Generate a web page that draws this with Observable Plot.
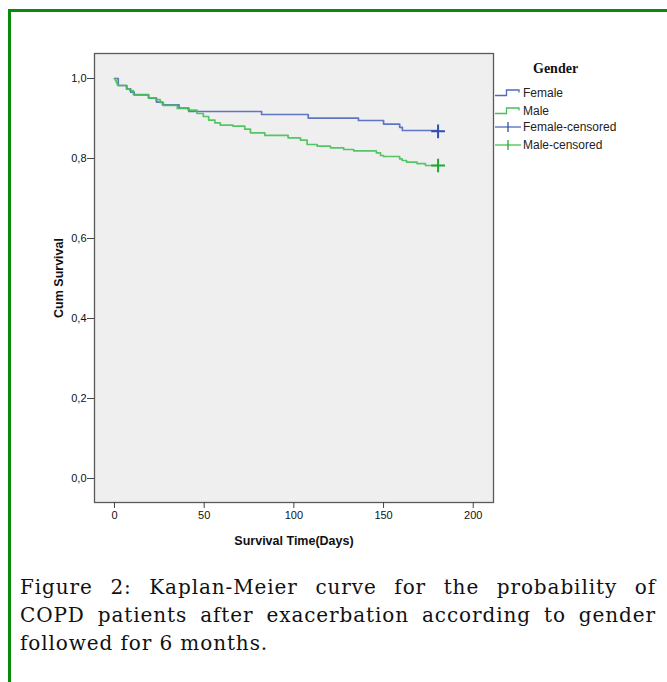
<!DOCTYPE html>
<html>
<head>
<meta charset="utf-8">
<script src="https://cdn.jsdelivr.net/npm/d3@7"></script>
<script src="https://cdn.jsdelivr.net/npm/@observablehq/plot@0.6"></script>
<style>
  html, body { margin: 0; padding: 0; background: #fff; width: 667px; height: 682px; overflow: hidden; }
  #page { position: relative; width: 667px; height: 682px; }
  #border { position: absolute; left: 8px; top: 9px; width: 680px; height: 700px; border: 3px solid #0a8a0a; box-sizing: border-box; }
  #chart { position: absolute; left: 0; top: 0; }
  #legend { position: absolute; left: 495px; top: 60px; font-family: "Liberation Sans", Arial, sans-serif; font-size: 12px; color: #222; }
  #legend .title { position: absolute; left: 38px; top: 1px; font-family: "Liberation Serif", "Times New Roman", serif; font-weight: bold; font-size: 14px; color: #111; white-space: nowrap; }
  #legend .item { position: absolute; left: 0; height: 14px; display: flex; align-items: center; white-space: nowrap; }
  #legend svg { display: block; margin-right: 1px; }
  #caption { position: absolute; left: 20px; top: 573px; width: 636px; font-family: "DejaVu Serif", serif; font-size: 20px; letter-spacing: 0.9px; line-height: 28px; color: #111; }
  #caption .j { display: block; text-align: justify; text-align-last: justify; white-space: nowrap; }
  #caption .l { display: block; text-align: left; white-space: nowrap; }
</style>
</head>
<body>
<div id="page">
  <div id="border"></div>
  <div id="chart"></div>
  <div id="legend"></div>
  <div id="caption"><span class="j">Figure 2: Kaplan-Meier curve for the probability of</span><span class="j">COPD patients after exacerbation according to gender</span><span class="l">followed for 6 months.</span></div>
</div>
<script>
// ---- data ----
const femaleDays = [0, 2.1, 6.7, 9, 11, 19, 23.4, 26.8, 36, 41.5, 82, 108, 136, 150, 159, 160.5, 180.4];
const femaleSurv = [1.0, 0.9825, 0.974, 0.966, 0.959, 0.951, 0.941, 0.934, 0.926, 0.9175, 0.910, 0.901, 0.895, 0.886, 0.878, 0.870, 0.870];
const maleDays = [0, 0.5, 1, 1.5, 2.2, 7, 8.5, 10.5, 19, 23, 25.5, 27.3, 35, 41, 46, 49.5, 52.5, 56, 59, 66, 72.6, 75.8, 83.8, 96.8, 103.7, 107.4, 113, 120.4, 127.8, 133.4, 146, 148.3, 150, 159, 160.4, 162.8, 168.7, 173.4, 180.4];
const maleSurv = [1.0, 0.995, 0.99, 0.985, 0.9825, 0.974, 0.97, 0.96, 0.951, 0.947, 0.94, 0.933, 0.925, 0.9208, 0.9125, 0.905, 0.896, 0.889, 0.8833, 0.881, 0.8733, 0.8642, 0.858, 0.8517, 0.8458, 0.835, 0.8308, 0.8268, 0.8225, 0.819, 0.814, 0.8075, 0.805, 0.799, 0.795, 0.791, 0.787, 0.7825, 0.7825];
const censoredGroup = ["Female", "Male"];
const censoredDays = [180.4, 180.4];
const censoredSurv = [0.868, 0.7825];
const xTicks = [0, 50, 100, 150, 200];
const yTicks = [0, 0.2, 0.4, 0.6, 0.8, 1.0];
const legendLabels = ["Female", "Male", "Female-censored", "Male-censored"];
const groupColors = {Female: "#4f68c0", Male: "#45c055"};
const censorColors = {Female: "#2f4fae", Male: "#1fa835"};

// ---- tables built from the arrays ----
const female = femaleDays.map((d, i) => ({day: d, surv: femaleSurv[i], group: "Female"}));
const male = maleDays.map((d, i) => ({day: d, surv: maleSurv[i], group: "Male"}));
const censored = censoredDays.map((d, i) => ({day: d, surv: censoredSurv[i], group: censoredGroup[i]}));

const fmt = d => d.toFixed(1).replace(".", ",");

const plot = Plot.plot({
  width: 667,
  height: 560,
  marginLeft: 94,
  marginTop: 53,
  marginRight: 174,
  marginBottom: 58,
  style: {background: "transparent", fontFamily: "'Liberation Sans', Arial, sans-serif", fontSize: "11px", color: "#111"},
  x: {domain: [-11.15, 211.3]},
  y: {domain: [-0.06, 1.0625]},
  marks: [
    Plot.frame({fill: "#efefef", stroke: "none"}),
    Plot.line(female, {x: "day", y: "surv", curve: "step-after", stroke: groupColors.Female, strokeWidth: 1.7, strokeOpacity: 0.9}),
    Plot.line(male, {x: "day", y: "surv", curve: "step-after", stroke: groupColors.Male, strokeWidth: 1.7, strokeOpacity: 0.9}),
    Plot.dot(censored, {x: "day", y: "surv", symbol: "plus", r: 4.5, strokeWidth: 2, stroke: d => censorColors[d.group]}),
    Plot.frame({stroke: "#5a5a5a", strokeWidth: 1.3}),
    Plot.axisX({ticks: xTicks, tickSize: 6, tickPadding: 3, tickFormat: d => String(d), stroke: "#444",
      label: "Survival Time(Days)", labelAnchor: "center", labelArrow: "none", labelOffset: 42}),
    Plot.axisY({ticks: yTicks, tickSize: 7, tickPadding: 1, tickFormat: fmt, stroke: "#444",
      label: "Cum Survival", labelAnchor: "center", labelArrow: "none", labelOffset: 40})
  ]
});
// bold axis titles only
plot.querySelectorAll("g[aria-label='x-axis label'] text, g[aria-label='y-axis label'] text").forEach(t => {
  t.setAttribute("font-weight", "bold");
  t.setAttribute("font-size", "12.5");
});
plot.querySelectorAll("g[aria-label='x-axis tick label'], g[aria-label='y-axis tick label']").forEach(g => {
  g.setAttribute("font-weight", "normal");
});
document.getElementById("chart").appendChild(plot);

// ---- legend (HTML) ----
const legend = document.getElementById("legend");
const title = document.createElement("div");
title.className = "title";
title.textContent = "Gender";
legend.appendChild(title);
const itemTops = [26, 44, 60, 78];
legendLabels.forEach((lab, i) => {
  const g = i % 2 === 0 ? "Female" : "Male";
  const censoredItem = i >= 2;
  const color = groupColors[g];
  const div = document.createElement("div");
  div.className = "item";
  div.style.top = itemTops[i] + "px";
  const shape = censoredItem
    ? `<line x1="0" y1="7" x2="26" y2="7" stroke="${color}" stroke-width="1.3"/><line x1="13" y1="2" x2="13" y2="12" stroke="${censorColors[g]}" stroke-width="1.3"/>`
    : `<path d="M0,9.5 H11.5 V4 H24 V6.5" fill="none" stroke="${color}" stroke-width="1.3"/>`;
  div.innerHTML = `<svg width="27" height="14">${shape}</svg><span>${lab}</span>`;
  legend.appendChild(div);
});
</script>
</body>
</html>
